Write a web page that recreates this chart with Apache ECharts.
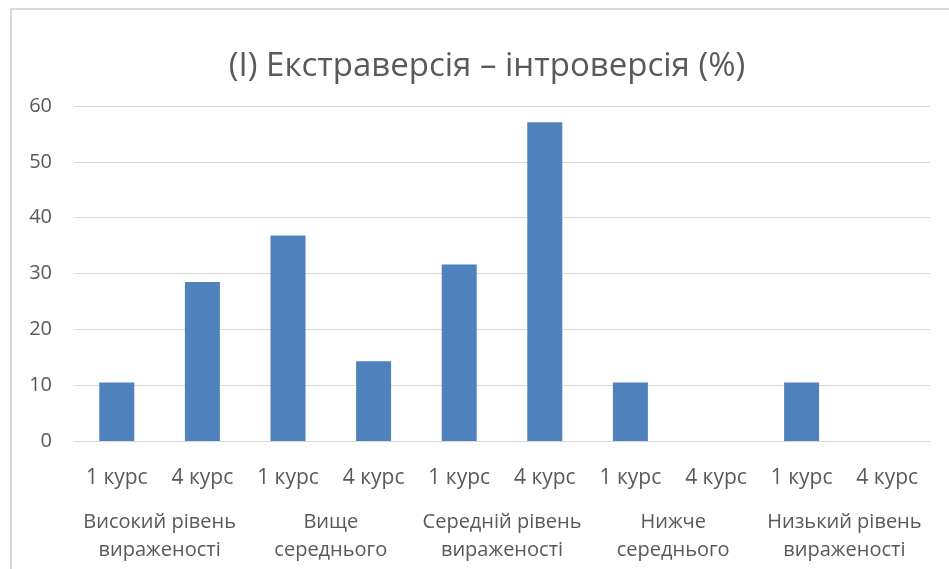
<!DOCTYPE html>
<html>
<head>
<meta charset="utf-8">
<script src="https://cdn.jsdelivr.net/npm/echarts@6/dist/echarts.min.js"></script>
<style>html,body{margin:0;padding:0;background:#fff}#c{width:949px;height:569px}</style>
</head>
<body>
<div id="c"></div>
<script>
const courses = ['1 курс','4 курс','1 курс','4 курс','1 курс','4 курс','1 курс','4 курс','1 курс','4 курс'];
const groups = ['Високий рівень\nвираженості','Вище\nсереднього','Середній рівень\nвираженості','Нижче\nсереднього','Низький рівень\nвираженості'];
const values = [10.5, 28.5, 36.8, 14.3, 31.6, 57.1, 10.5, 0, 10.5, 0];
const yTicks = {min: 0, max: 60, interval: 10};

const font = '"Open Sans", "Noto Sans", sans-serif';
const chart = echarts.init(document.getElementById('c'), null, {renderer: 'canvas'});
chart.setOption({
  animation: false,
  backgroundColor: '#fff',
  title: {
    text: '(І) Екстраверсія – інтроверсія (%)',
    left: 482, top: 45, textAlign: 'center',
    textStyle: {fontFamily: font, fontSize: 33, fontWeight: 'normal', color: '#595959'}
  },
  graphic: [
    {type: 'polyline', shape: {points: [[11, 575], [11, 9], [955, 9]]},
     style: {stroke: '#d9d9d9', lineWidth: 2, fill: null}, silent: true}
  ],
  grid: {left: 74, right: 19, top: 106, bottom: 128, containLabel: false},
  xAxis: [
    {type: 'category', data: courses, position: 'bottom',
     axisLine: {show: true, lineStyle: {color: '#d9d9d9', width: 1}},
     axisTick: {show: false},
     axisLabel: {interval: 0, margin: 27, fontFamily: font, fontSize: 21, color: '#595959'}},
    {type: 'category', data: groups, position: 'bottom',
     axisLine: {show: false}, axisTick: {show: false},
     axisLabel: {interval: 0, margin: 67, lineHeight: 28, fontFamily: font, fontSize: 20, color: '#595959', verticalAlign: 'top'}}
  ],
  yAxis: {
    type: 'value', min: yTicks.min, max: yTicks.max, interval: yTicks.interval,
    axisLine: {show: false}, axisTick: {show: false},
    splitLine: {lineStyle: {color: '#d9d9d9', width: 1}},
    axisLabel: {margin: 22, fontFamily: font, fontSize: 20, color: '#595959'}
  },
  series: [{
    type: 'bar', data: values, xAxisIndex: 0, barWidth: 35,
    itemStyle: {color: '#4f81bd'}
  }]
});
</script>
</body>
</html>
